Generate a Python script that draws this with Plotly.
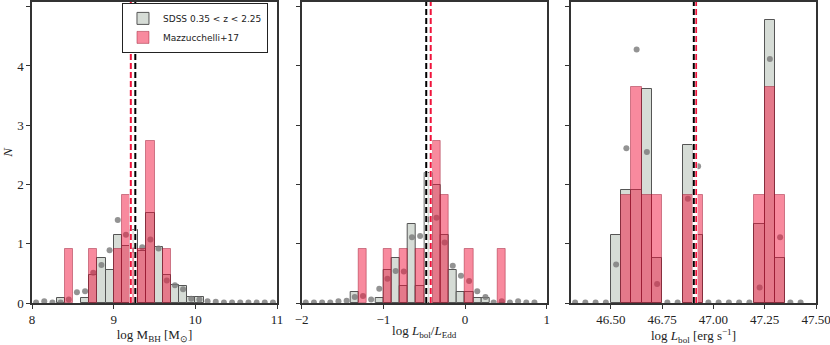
import plotly.graph_objects as go

# --- data (density-normalised histograms) ---
# panel 1: log M_BH
mbh_sdss_x = [8.35, 8.65, 8.75, 8.85, 8.95, 9.05, 9.15, 9.25, 9.35, 9.45, 9.55, 9.65, 9.75, 9.85, 9.95, 10.05]
mbh_sdss_n = [0.08, 0.08, 0.48, 0.76, 0.56, 1.14, 0.96, 1.24, 0.87, 1.52, 0.95, 0.47, 0.30, 0.28, 0.10, 0.10]
mbh_m17_x = [8.45, 8.75, 9.05, 9.15, 9.25, 9.35, 9.45, 9.65]
mbh_m17_n = [0.91, 0.91, 0.91, 1.82, 0.91, 0.91, 2.73, 0.91]
mbh_dot_x = [8.05, 8.15, 8.25, 8.35, 8.45, 8.55, 8.65, 8.75, 8.85, 8.95,
             9.05, 9.15, 9.25, 9.35, 9.45, 9.55, 9.65, 9.75, 9.85, 9.95,
             10.05, 10.15, 10.25, 10.35, 10.45, 10.55, 10.65, 10.75, 10.85, 10.95]
mbh_dot_n = [0.01, 0.03, 0.01, 0.01, 0.06, 0.18, 0.20, 0.51, 0.64, 0.89,
             1.40, 1.15, 0.89, 0.94, 1.07, 0.92, 0.38, 0.30, 0.23, 0.07,
             0.06, 0.03, 0.02, 0.01, 0.01, 0.01, 0.01, 0.01, 0.01, 0.01]
mbh_med_sdss, mbh_med_m17 = 9.265, 9.21

# panel 2: log L_bol / L_Edd
edd_sdss_x = [-1.35, -1.05, -0.95, -0.85, -0.75, -0.65, -0.55, -0.45, -0.35, -0.25, -0.15, -0.05, 0.05, 0.15, 0.25]
edd_sdss_n = [0.19, 0.08, 0.56, 0.76, 0.28, 1.33, 0.28, 2.19, 2.00, 1.14, 0.56, 0.19, 0.19, 0.08, 0.08]
edd_m17_x = [-1.25, -0.95, -0.75, -0.55, -0.35, -0.25, 0.05, 0.45]
edd_m17_n = [0.91, 0.91, 0.91, 0.91, 2.73, 1.82, 0.91, 0.91]
edd_dot_x = [-1.95, -1.85, -1.75, -1.65, -1.55, -1.45, -1.35, -1.25, -1.15, -1.05,
             -0.95, -0.85, -0.75, -0.65, -0.55, -0.45, -0.35, -0.25, -0.15, -0.05,
             0.05, 0.15, 0.25, 0.35, 0.45, 0.55, 0.65, 0.75, 0.85]
edd_dot_n = [0.01, 0.01, 0.01, 0.01, 0.03, 0.04, 0.10, 0.12, 0.06, 0.24,
             0.41, 0.54, 0.53, 1.11, 1.13, 1.41, 1.44, 1.02, 0.63, 0.46,
             0.37, 0.20, 0.10, 0.01, 0.03, 0.01, 0.03, 0.01, 0.01]
edd_med_sdss, edd_med_m17 = -0.475, -0.42

# panel 3: log L_bol
lbol_sdss_x = [46.525, 46.575, 46.625, 46.675, 46.725, 46.875, 46.925, 47.225, 47.275, 47.325]
lbol_sdss_n = [1.14, 1.90, 1.90, 3.62, 0.76, 2.67, 1.14, 1.34, 4.77, 0.76]
lbol_m17_x = [46.575, 46.625, 46.675, 46.725, 46.875, 46.925, 47.225, 47.275, 47.325]
lbol_m17_n = [1.82, 3.64, 1.82, 1.82, 1.82, 1.82, 1.82, 3.64, 1.82]
lbol_dot_x = [46.325, 46.375, 46.425, 46.475, 46.525, 46.575, 46.625, 46.675, 46.725, 46.775,
              46.825, 46.875, 46.925, 46.975, 47.025, 47.075, 47.125, 47.175, 47.225, 47.275,
              47.325, 47.375, 47.425]
lbol_dot_n = [0.01, 0.01, 0.01, 0.01, 0.65, 2.61, 4.28, 2.55, 0.32, 0.01,
              0.01, 1.76, 2.31, 0.01, 0.01, 0.01, 0.01, 0.01, 0.26, 4.12,
              1.11, 0.01, 0.01]
lbol_med_sdss, lbol_med_m17 = 46.904, 46.915

panels = [
    dict(sx=mbh_sdss_x, sn=mbh_sdss_n, mx=mbh_m17_x, mn=mbh_m17_n, dx=mbh_dot_x, dn=mbh_dot_n,
         w=0.1, med=(mbh_med_sdss, mbh_med_m17), rng=[8, 11], ticks=[8, 9, 10, 11], fmt="d",
         title="log M<sub>BH</sub> [M<sub>⊙</sub>]"),
    dict(sx=edd_sdss_x, sn=edd_sdss_n, mx=edd_m17_x, mn=edd_m17_n, dx=edd_dot_x, dn=edd_dot_n,
         w=0.1, med=(edd_med_sdss, edd_med_m17), rng=[-2, 1], ticks=[-2, -1, 0, 1], fmt="d",
         title="log <i>L</i><sub>bol</sub>/<i>L</i><sub>Edd</sub>"),
    dict(sx=lbol_sdss_x, sn=lbol_sdss_n, mx=lbol_m17_x, mn=lbol_m17_n, dx=lbol_dot_x, dn=lbol_dot_n,
         w=0.05, med=(lbol_med_sdss, lbol_med_m17), rng=[46.305, 47.5],
         ticks=[46.5, 46.75, 47.0, 47.25, 47.5], fmt=".2f",
         title="log <i>L</i><sub>bol</sub> [erg s<sup>−1</sup>]"),
]

GRAY_FILL = "rgb(214,220,214)"
GRAY_EDGE = "rgb(85,85,85)"
PINK_FILL = "rgba(242,22,62,0.5)"
PINK_EDGE = "rgba(150,20,45,0.45)"
SERIF = "Liberation Serif"
AX = "#333333"

domains = [[0.0, 0.3125], [0.344, 0.6565], [0.6875, 1.0]]

fig = go.Figure()
layout = {}
shapes = []

for i, p in enumerate(panels):
    n = i + 1
    ov = i + 4
    xs = "" if n == 1 else str(n)
    # gray SDSS histogram and dots on the base axes
    fig.add_trace(go.Bar(x=p["sx"], y=p["sn"], width=p["w"], name="SDSS 0.35 &lt; z &lt; 2.25",
                         marker=dict(color=GRAY_FILL, line=dict(color=GRAY_EDGE, width=1)),
                         xaxis="x" + xs, yaxis="y" + xs, showlegend=(i == 0), legendrank=1))
    fig.add_trace(go.Scatter(x=p["dx"], y=p["dn"], mode="markers",
                             marker=dict(color="rgba(120,120,120,0.8)", size=6),
                             xaxis="x" + xs, yaxis="y" + xs, showlegend=False))
    # pink Mazzucchelli+17 histogram on overlay axes, so it sits over the dots
    fig.add_trace(go.Bar(x=p["mx"], y=p["mn"], width=p["w"], name="Mazzucchelli+17",
                         marker=dict(color=PINK_FILL, line=dict(color=PINK_EDGE, width=1)),
                         xaxis="x%d" % ov, yaxis="y%d" % ov, showlegend=(i == 0), legendrank=2))

    layout["xaxis" + xs] = dict(
        domain=domains[i], anchor="y" + xs, range=p["rng"], tickvals=p["ticks"], tickformat=p["fmt"],
        showgrid=False, zeroline=False, showline=True, linecolor=AX, linewidth=1.5, mirror=True,
        ticks="outside", ticklen=4, tickcolor=AX, ticklabeloverflow="allow",
        tickfont=dict(family=SERIF, size=13, color="#222"),
        title=dict(text=p["title"], font=dict(family=SERIF, size=13, color="#222"), standoff=0),
        automargin=False)
    layout["yaxis" + xs] = dict(
        domain=[0, 1], anchor="x" + xs, range=[0, 5.08], tickvals=[0, 1, 2, 3, 4, 5],
        showticklabels=(i == 0), showgrid=False, zeroline=False, showline=True, linecolor=AX,
        linewidth=1.5, mirror=True, ticks="outside", ticklen=4, tickcolor=AX,
        tickfont=dict(family=SERIF, size=13, color="#222"), automargin=False,
        title=dict(text="<i>N</i>" if i == 0 else "", font=dict(family=SERIF, size=13, color="#222"),
                   standoff=6))
    layout["xaxis%d" % ov] = dict(overlaying="x" + xs, anchor="y%d" % ov, range=p["rng"], visible=False)
    layout["yaxis%d" % ov] = dict(overlaying="y" + xs, anchor="x%d" % ov, range=[0, 5.08], visible=False)

    # median lines: sdss black, m17 red, white underlay for gaps
    for xv, col in [(p["med"][1], "#f0143c"), (p["med"][0], "black")]:
        shapes.append(dict(type="line", xref="x" + xs, yref="y%s domain" % xs, x0=xv, x1=xv, y0=0, y1=1,
                           line=dict(color="white", width=3), layer="above"))
        shapes.append(dict(type="line", xref="x" + xs, yref="y%s domain" % xs, x0=xv, x1=xv, y0=0, y1=1,
                           line=dict(color=col, width=2, dash="6px,3px"), layer="above"))

fig.update_layout(
    width=830, height=345,
    margin=dict(l=32, r=14, t=2, b=42),
    paper_bgcolor="white", plot_bgcolor="white",
    barmode="overlay", bargap=0,
    shapes=shapes,
    legend=dict(x=0.301, y=0.997, xanchor="right", yanchor="top",
                bgcolor="white", bordercolor="#222", borderwidth=1,
                font=dict(family="DejaVu Sans", size=9, color="#222"),
                tracegroupgap=0, itemwidth=30),
    **layout,
)

# the page's default body margin would push the figure 8px down and right
fig.write_html("out.html", config={"displayModeBar": False},
               post_script="document.body.style.margin='0px';")
